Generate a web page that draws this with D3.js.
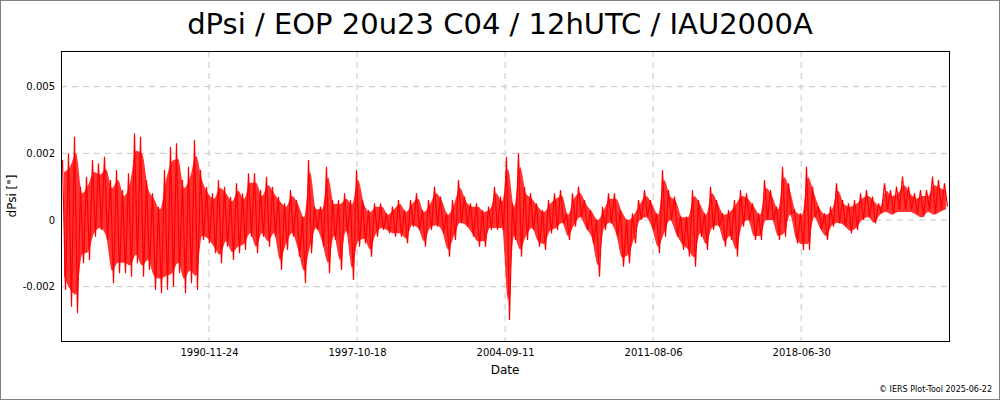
<!DOCTYPE html>
<html>
<head>
<meta charset="utf-8">
<script src="https://cdn.jsdelivr.net/npm/d3@7"></script>
<style>
  body { margin: 0; background: #fff; }
  text { font-family: "DejaVu Sans", sans-serif; }
</style>
</head>
<body>
<svg id="canvas"></svg>
<script>
(function () {

    const width = 1000;
    const height = 400;
    const margin = { top: 51, right: 51, bottom: 59, left: 61 };
    const lineColor = "rgb(255, 0, 0)";
    const gridColor = "#c8c8c8";

    // envelope of dPsi per ~0.28 yr segment, in milli-arcsec
    const segHigh = [
        1.8, 2.0, 2.5, 1.0, 1.3, 1.8, 1.7, 1.9, 1.2, 1.5, 0.9, 1.4, 2.6, 2.5, 1.2, 0.8,
        0.4, 1.5, 2.2, 2.3, 1.2, 1.6, 2.4, 1.5, 1.0, 0.8, 1.2, 1.0, 0.7, 1.1, 0.8, 1.4,
        1.4, 0.9, 1.3, 1.0, 0.7, 0.5, 0.9, 0.6, 0.1, 1.8, 0.4, 0.4, 1.6, 0.6, 0.6, 0.8,
        0.6, 1.5, 0.6, 0.3, 0.5, 0.5, 0.2, 0.4, 0.6, 0.3, 0.6, 0.8, 0.3, 0.6, 1.0, 0.7,
        0.2, 0.6, 1.2, 0.7, 0.5, 0.5, 0.3, 0.4, 1.0, 0.7, 1.9, 0.5, 2.0, 1.0, 0.8, 0.5,
        0.3, 0.6, 0.8, 0.9, 0.2, 0.8, 1.0, 0.6, 0.3, 0.0, 0.4, 0.8, 0.8, 0.3, 0.0, 0.2,
        0.6, 0.9, 0.6, 0.2, 1.5, 0.9, 0.7, 0.1, 0.1, 0.9, 0.6, 0.2, 1.0, 0.6, 0.2, 0.3,
        0.6, 0.9, 0.8, 0.5, 0.2, 1.2, 0.9, 0.4, 1.6, 1.1, 0.3, 0.2, 1.6, 1.0, 0.4, 0.2,
        0.4, 1.1, 0.6, 0.5, 0.6, 0.8, 0.9, 0.7, 0.5, 1.1, 0.9, 1.0, 1.3, 1.0, 0.8, 0.9,
        0.9, 1.3, 1.2, 1.1
    ];
    const segLow = [
        -2.1, -2.6, -2.8, -1.3, -1.2, -0.5, -0.3, -0.6, -1.9, -1.6, -1.6, -1.7, -1.3, -1.7, -1.5, -2.1,
        -2.2, -2.1, -2.0, -1.6, -2.2, -1.9, -2.1, -0.6, -0.7, -1.0, -1.3, -0.8, -1.2, -1.0, -0.9, -0.5,
        -1.0, -0.5, -0.8, -0.5, -1.5, -0.9, -0.5, -1.1, -1.9, -1.0, -0.3, -0.8, -1.6, -0.6, -1.5, -0.4,
        -1.8, -0.8, -0.7, -1.1, -0.5, -0.3, -0.4, -0.5, -0.5, -0.7, -0.2, -0.3, -0.8, -0.3, -0.2, -0.4,
        -1.1, -0.6, -0.1, -0.2, -0.5, -0.8, -0.8, -0.3, -0.3, -0.3, -3.0, -0.6, -1.1, -0.6, -0.3, -0.8,
        -0.9, -0.4, -0.3, -0.1, -0.6, -0.2, 0.1, -0.3, -0.7, -1.7, -0.3, -0.1, -0.5, -1.4, -1.3, -0.7,
        0.0, 0.1, -0.3, -1.0, -0.5, 0.0, -0.5, -0.9, -1.1, -1.4, -0.5, -0.9, -0.3, -0.2, -0.8, -0.6,
        -1.1, -0.2, 0.0, -0.6, -0.6, 0.0, 0.0, -0.6, -0.5, 0.2, -0.7, -0.9, -0.9, 0.1, -0.3, -0.6,
        -0.2, -0.1, -0.2, -0.4, -0.3, 0.0, 0.1, -0.1, 0.2, 0.3, 0.2, 0.3, 0.3, 0.3, 0.2, 0.1,
        0.3, 0.2, 0.3, 0.4
    ];
    const tickDates = ["1990-11-24", "1997-10-18", "2004-09-11", "2011-08-06", "2018-06-30"];
    const yTickValues = [0.004, 0.002, 0, -0.002];
    const yTickLabels = ["0.005", "0.002", "0", "-0.002"];

    const parse = d3.timeParse("%Y-%m-%d");
    const start = parse("1984-01-01");
    const end = parse("2025-05-20");

    const x = d3.scaleTime()
        .domain([start, end])
        .range([margin.left, width - margin.right]);
    const y = d3.scaleLinear()
        .domain([-0.00363, 0.00507])
        .range([height - margin.bottom, margin.top]);

    const n = segHigh.length;
    const segMs = (end - start) / n;
    const segs = segHigh.map((h, i) => ({
        t: new Date(+start + (i + 0.5) * segMs),
        hi: h / 1000,
        lo: segLow[i] / 1000
    }));
    // each segment contributes its high and its low sample
    const points = [];
    segs.forEach((s, i) => {
        points.push({ t: new Date(+start + (i + 0.25) * segMs), v: s.hi });
        points.push({ t: new Date(+start + (i + 0.75) * segMs), v: s.lo });
    });

    const svg = d3.select("#canvas")
        .attr("width", width)
        .attr("height", height);

    svg.append("rect")
        .attr("x", 0.5).attr("y", 0.5)
        .attr("width", width - 1).attr("height", height - 1)
        .attr("fill", "#fff")
        .attr("stroke", "#808080");

    const tickTimes = tickDates.map(parse);

    svg.append("g").selectAll("line.vgrid")
        .data(tickTimes)
        .enter().append("line")
        .attr("x1", d => x(d)).attr("x2", d => x(d))
        .attr("y1", margin.top).attr("y2", height - margin.bottom)
        .attr("stroke", gridColor)
        .attr("stroke-dasharray", "6,5");

    svg.append("g").selectAll("line.hgrid")
        .data(yTickValues)
        .enter().append("line")
        .attr("x1", margin.left).attr("x2", width - margin.right)
        .attr("y1", d => y(d)).attr("y2", d => y(d))
        .attr("stroke", gridColor)
        .attr("stroke-dasharray", "6,5");

    svg.append("defs").append("clipPath").attr("id", "clip")
        .append("rect")
        .attr("x", margin.left).attr("y", margin.top)
        .attr("width", width - margin.left - margin.right)
        .attr("height", height - margin.top - margin.bottom);

    // dense band between the per-segment extremes
    svg.append("path")
        .datum(segs)
        .attr("clip-path", "url(#clip)")
        .attr("fill", lineColor)
        .attr("fill-opacity", 0.8)
        .attr("d", d3.area().curve(d3.curveMonotoneX)
            .x(d => x(d.t))
            .y0(d => y(d.lo * 0.8))
            .y1(d => y(d.hi * 0.8)));

    svg.append("path")
        .datum(points)
        .attr("clip-path", "url(#clip)")
        .attr("fill", "none")
        .attr("stroke", lineColor)
        .attr("stroke-width", 1.2)
        .attr("d", d3.line().x(d => x(d.t)).y(d => y(d.v)));

    svg.append("rect")
        .attr("x", margin.left + 0.5).attr("y", margin.top + 0.5)
        .attr("width", width - margin.left - margin.right)
        .attr("height", height - margin.top - margin.bottom)
        .attr("fill", "none")
        .attr("stroke", "#000");

    const xAxis = svg.append("g")
        .attr("transform", `translate(0,${height - margin.bottom})`)
        .call(d3.axisBottom(x).tickValues(tickTimes).tickFormat(d3.timeFormat("%Y-%m-%d")).tickSize(0).tickPadding(8));
    xAxis.select(".domain").remove();
    xAxis.selectAll("text").attr("font-size", 10).attr("fill", "#000")
        .style("font-family", "DejaVu Sans, sans-serif");

    const yAxis = svg.append("g")
        .attr("transform", `translate(${margin.left},0)`)
        .call(d3.axisLeft(y).tickValues(yTickValues).tickFormat((d, i) => yTickLabels[i]).tickSize(0).tickPadding(6));
    yAxis.select(".domain").remove();
    yAxis.selectAll("text").attr("font-size", 10).attr("fill", "#000")
        .style("font-family", "DejaVu Sans, sans-serif");

    svg.append("text")
        .attr("x", width / 2).attr("y", 34)
        .attr("text-anchor", "middle")
        .attr("font-size", 29)
        .text("dPsi / EOP 20u23 C04 / 12hUTC / IAU2000A");

    svg.append("text")
        .attr("x", 505).attr("y", 374)
        .attr("text-anchor", "middle")
        .attr("font-size", 12)
        .text("Date");

    svg.append("text")
        .attr("transform", "translate(16,196) rotate(-90)")
        .attr("text-anchor", "middle")
        .attr("font-size", 12)
        .text("dPsi [\"]");

    svg.append("text")
        .attr("x", 992).attr("y", 392)
        .attr("text-anchor", "end")
        .attr("font-size", 8)
        .text("© IERS Plot-Tool 2025-06-22");

})();
</script>
</body>
</html>
